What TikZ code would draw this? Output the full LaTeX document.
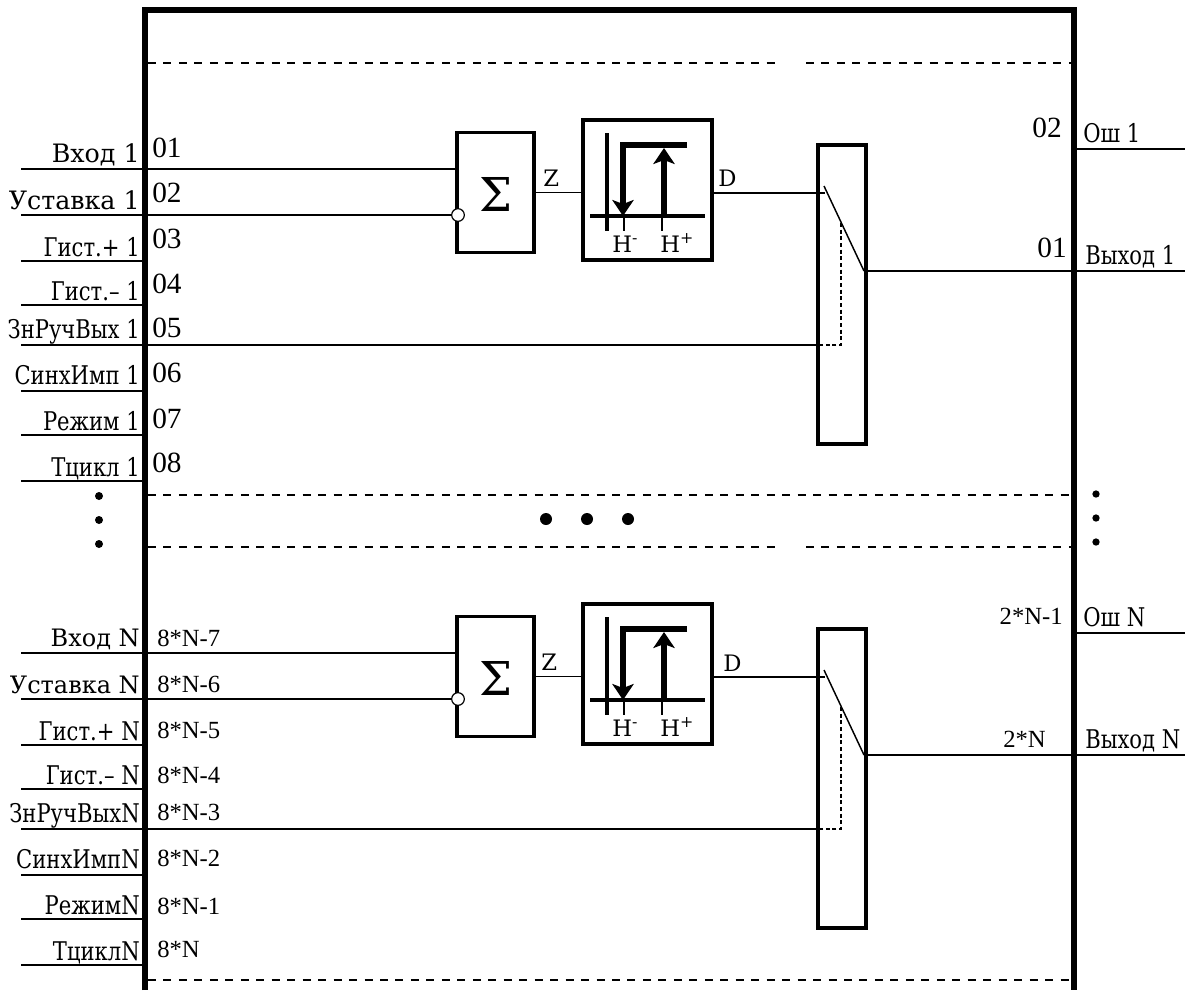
\documentclass[tikz,border=0pt]{standalone}
\usepackage{fontspec}
\usepackage{xcolor}
\usepackage{tikz}
\usetikzlibrary{arrows.meta, positioning, calc}
\setmainfont{DejaVu Serif}
\newfontfamily\numfont{Liberation Serif}
\newfontfamily\narrowfont[FakeStretch=0.82]{DejaVu Serif}
\tikzset{
	x=0.75pt, y=-0.75pt,
	sigline/.style ={line width=1.1pt},
	frameline/.style={line width=4pt},
	sep/.style     ={line width=1.1pt, dash pattern=on 6pt off 5.6pt},
	blk/.style     ={rectangle, draw=black, line width=2.6pt, inner sep=0pt, align=center},
	sumblk/.style  ={blk, minimum width=57.75pt, minimum height=90pt},
	hystblk/.style ={blk, minimum width=96.75pt, minimum height=105pt},
	swblk/.style   ={blk, minimum width=36pt, minimum height=224.25pt},
	invj/.style    ={circle, draw=black, line width=0.9pt, fill=white, minimum size=9.5pt, inner sep=0pt},
	axisline/.style={line width=2.6pt},
	loopline/.style={line width=4pt},
	looptip/.style ={-{Stealth[length=12pt, width=16pt, inset=3pt]}},
	swline/.style  ={line width=1.1pt},
	swdash/.style  ={line width=1.1pt, dash pattern=on 3pt off 2pt},
	lab/.style     ={inner sep=0pt, font=\fontsize{19}{19}\selectfont},
	labn/.style    ={inner sep=0pt, font=\fontsize{18}{18}\selectfont},
	narrowlab/.style={inner sep=0pt, font=\narrowfont\fontsize{19.3}{19}\selectfont},
	num/.style     ={inner sep=0pt, font=\numfont\fontsize{22}{22}\selectfont},
	numn/.style    ={inner sep=0pt, font=\numfont\fontsize{18.5}{19}\selectfont},
	small/.style   ={inner sep=0pt, font=\fontsize{17}{17}\selectfont},
	bigdot/.style  ={circle, fill=black, inner sep=0pt},
}
\begin{document}
\begin{tikzpicture}
	\useasboundingbox (0,0) rectangle (1185,990);
	% frame
	\coordinate (fl) at (145,990);
	\coordinate (fr) at (1074,990);
	\draw[frameline] (fl) -- (145,10) -- (1074,10) -- (fr);
	% separators
	\draw[sep] (148,63) -- (780,63);
	\draw[sep] (806,63) -- (1071,63);
	\draw[sep] (148,495) -- (1071,495);
	\draw[sep] (148,547) -- (780,547);
	\draw[sep] (806,547) -- (1071,547);
	\draw[sep] (148,980) -- (1071,980);
	% the two channels
	\foreach \k/\dy in {1/0, N/484} {
		\begin{scope}[shift={(0,\dy)}]
			\coordinate (ia\k) at (21,169);
			\coordinate (ib\k) at (21,215);
			\coordinate (ic\k) at (21,261);
			\coordinate (id\k) at (21,305);
			\coordinate (ie\k) at (21,345);
			\coordinate (if\k) at (21,391);
			\coordinate (ig\k) at (21,435);
			\coordinate (ih\k) at (21,481);
			\coordinate (oa\k) at (1185,149);
			\coordinate (ob\k) at (1185,271);
			\node[sumblk] (s\k) at (495.5,192.5) {};
			\node[font=\fontsize{35}{35}\selectfont, inner sep=0pt] (sg\k) at (495.5,194) {Σ};
			\node[hystblk] (h\k) at (647.5,190) {};
			\node[swblk] (w\k) at (842,294.5) {};
			\node[invj] (nj\k) at (458,215) {};
			\coordinate (d\k) at (825,193);
			\coordinate (sa\k) at (824,186);
			\coordinate (sb\k) at (864,271);
			\coordinate (sm\k) at (841,223);
			\coordinate (sc\k) at (841,345);
			\draw[sigline] (ia\k) -- (s\k.west |- ia\k);
			\draw[sigline] (ib\k) -- (nj\k);
			\draw[sigline] (ic\k) -- (fl |- ic\k);
			\draw[sigline] (id\k) -- (fl |- id\k);
			\draw[sigline] (ie\k) -- (w\k.west |- ie\k);
			\draw[sigline] (if\k) -- (fl |- if\k);
			\draw[sigline] (ig\k) -- (fl |- ig\k);
			\draw[sigline] (ih\k) -- (fl |- ih\k);
			\draw[sigline] (s\k.east) -- (h\k.west |- s\k.east);
			\draw[sigline] (h\k.east |- d\k) -- (d\k);
			\draw[sigline] (fr |- oa\k) -- (oa\k);
			\draw[sigline] (sb\k) -- (ob\k);
			\draw[swline] (sa\k) -- (sb\k);
			\draw[swdash] (sm\k) -- (sc\k) -- (w\k.west |- sc\k);
			% hysteresis symbol
			\draw[axisline] (607,133) -- (607,231);
			\draw[axisline] (590,216) -- (705,216);
			\draw[sigline] (624,216) -- (624,231);
			\draw[sigline] (662,216) -- (662,231);
			\draw[loopline, looptip] (687,145) -- (623,145) -- (623,216);
			\draw[loopline, looptip] (664,216) -- (664,148);
			\node[small, anchor=base west] (hm\k) at (612,252) {H\textsuperscript{-}};
			\node[small, anchor=base west] (hp\k) at (660,252) {H\textsuperscript{+}};
		\end{scope}
	}
	% signal names
	\node[small, anchor=base west] (z1) at (543,186) {Z};
	\node[small, anchor=base west] (d1) at (718,186) {D};
	\node[small, anchor=base west] (zn) at (541,670) {Z};
	\node[small, anchor=base west] (dn) at (723,671) {D};
	% inputs of channel 1
	\foreach \nm/\txt/\st/\base in {a/Вход 1/lab/162, b/Уставка 1/lab/209, c/Гист.+ 1/narrowlab/256, d/Гист.– 1/narrowlab/300,
		e/ЗнРучВых 1/narrowlab/338, f/СинхИмп 1/narrowlab/384, g/Режим 1/narrowlab/430, h/Тцикл 1/narrowlab/476}
		\node[\st, anchor=base east] (t\nm1) at (140,\base) {\txt};
	\foreach \nm/\txt/\base in {a/01/157, b/02/202, c/03/248, d/04/293, e/05/337, f/06/382, g/07/428, h/08/472}
		\node[num, anchor=base west] (n\nm1) at (152,\base) {\txt};
	% inputs of channel N
	\foreach \nm/\txt/\st/\base in {a/Вход N/labn/646, b/Уставка N/labn/693, c/Гист.+ N/narrowlab/740, d/Гист.– N/narrowlab/784,
		e/ЗнРучВыхN/narrowlab/822, f/СинхИмпN/narrowlab/868, g/РежимN/narrowlab/914, h/ТциклN/narrowlab/960}
		\node[\st, anchor=base east] (t\nm N) at (140,\base) {\txt};
	\foreach \nm/\txt/\base in {a/8*N-7/646, b/8*N-6/692, c/8*N-5/738, d/8*N-4/783, e/8*N-3/820, f/8*N-2/866, g/8*N-1/914, h/8*N/957}
		\node[numn, anchor=base west] (n\nm N) at (157,\base) {\txt};
	% outputs
	\node[num, anchor=base east] (nb1) at (1062,137) {02};
	\node[num, anchor=base east] (na1) at (1067,257) {01};
	\node[numn, anchor=base east] (nbn) at (1063,624) {2*N-1};
	\node[numn, anchor=base east] (nan) at (1046,747) {2*N};
	\node[narrowlab, anchor=base west] (oo1) at (1083,142) {Ош 1};
	\node[narrowlab, anchor=base west] (ov1) at (1085,264) {Выход 1};
	\node[narrowlab, anchor=base west] (oon) at (1083,626) {Ош N};
	\node[narrowlab, anchor=base west] (ovn) at (1085,748) {Выход N};
	% dots
	\foreach \yy in {496,520,544} \node[bigdot, minimum size=6pt] (ld\yy) at (99,\yy) {};
	\foreach \yy in {494,518,542} \node[bigdot, minimum size=5.5pt] (rd\yy) at (1096,\yy) {};
	\foreach \xx in {546,587,628} \node[bigdot, minimum size=9pt] (md\xx) at (\xx,519) {};
\end{tikzpicture}
\end{document}
